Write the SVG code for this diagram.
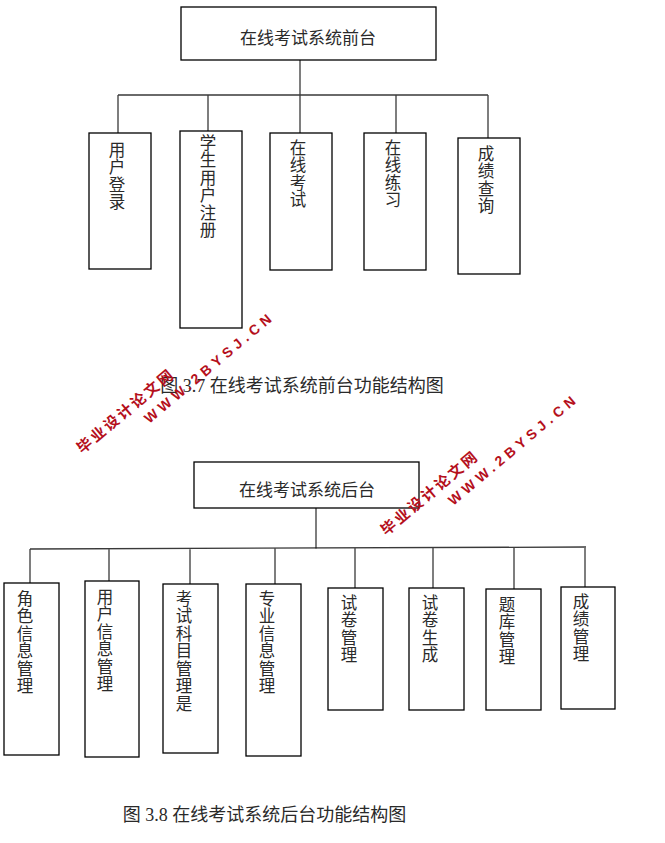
<svg xmlns="http://www.w3.org/2000/svg" width="665" height="843" viewBox="0 0 665 843">
<style>
.box{fill:#fff;stroke:#000;stroke-width:1.3}
.ln{fill:none;stroke:#3a3a3a;stroke-width:1.3}
.t{font-family:"Noto Sans CJK SC","Noto Sans",sans-serif;font-size:17px;fill:#2a2a2a;text-anchor:middle}
.v{font-family:"Noto Sans CJK SC","Noto Sans",sans-serif;font-size:16.5px;fill:#2a2a2a;writing-mode:vertical-rl;letter-spacing:1px}
.cap{font-family:"Liberation Serif","Noto Sans CJK SC",serif;font-size:18px;fill:#2a2a2a;text-anchor:middle}
.wmc{font-family:"Noto Sans CJK SC",sans-serif;font-weight:bold;font-size:15px;fill:#b5101c;text-anchor:middle;letter-spacing:2.5px}
.wme{font-family:"Liberation Sans",Arial,sans-serif;font-weight:bold;font-size:14px;fill:#b5101c;text-anchor:middle;letter-spacing:4.5px}
</style>
<rect width="665" height="843" fill="#fff"/>

<g id="connectors">
<path class="ln" d="M300 60V95M118 95H488M118 95V133M208 95V131M300 95V133M396 95V133M488 95V138"/>
<path class="ln" d="M316 508V549M30 549L586 547M30 549V583M109 549V581M190 549V584M275 548V584M355 548V588M433 548V588M514 547V589M585 547V587"/>
</g>

<g id="front-root"><rect class="box" x="181" y="7" width="255" height="53"/><text class="t" x="308" y="44">在线考试系统前台</text></g>
<g id="f1"><rect class="box" x="89" y="133" width="62" height="136"/><text class="v" x="117" y="141">用户登录</text></g>
<g id="f2"><rect class="box" x="180" y="131" width="62" height="197"/><text class="v" x="208" y="134">学生用户注册</text></g>
<g id="f3"><rect class="box" x="270" y="133" width="62" height="137"/><text class="v" x="298" y="139">在线考试</text></g>
<g id="f4"><rect class="box" x="364" y="133" width="62" height="137"/><text class="v" x="393" y="139">在线练习</text></g>
<g id="f5"><rect class="box" x="458" y="138" width="62" height="136"/><text class="v" x="486" y="145">成绩查询</text></g>

<text class="cap" x="302" y="392">图 3.7 在线考试系统前台功能结构图</text>

<g id="back-root"><rect class="box" x="194" y="462" width="225" height="46"/><text class="t" x="307" y="496">在线考试系统后台</text></g>
<g id="b1"><rect class="box" x="4" y="583" width="55" height="172"/><text class="v" x="25" y="590">角色信息管理</text></g>
<g id="b2"><rect class="box" x="85" y="581" width="54" height="176"/><text class="v" x="105" y="588">用户信息管理</text></g>
<g id="b3"><rect class="box" x="163" y="584" width="55" height="169"/><text class="v" x="184" y="590">考试科目管理是</text></g>
<g id="b4"><rect class="box" x="246" y="584" width="55" height="172"/><text class="v" x="267" y="590">专业信息管理</text></g>
<g id="b5"><rect class="box" x="328" y="588" width="55" height="122"/><text class="v" x="349" y="594">试卷管理</text></g>
<g id="b6"><rect class="box" x="409" y="588" width="55" height="122"/><text class="v" x="430" y="594">试卷生成</text></g>
<g id="b7"><rect class="box" x="486" y="589" width="55" height="121"/><text class="v" x="507" y="596">题库管理</text></g>
<g id="b8"><rect class="box" x="561" y="587" width="54" height="122"/><text class="v" x="581" y="593">成绩管理</text></g>

<text class="cap" x="264.5" y="821">图 3.8 在线考试系统后台功能结构图</text>

<g id="watermark1" transform="translate(126 411) rotate(-40)">
<text class="wmc" x="0" y="5">毕业设计论文网</text>
<text class="wme" x="92" y="25">WWW.2BYSJ.CN</text>
</g>
<g id="watermark2" transform="translate(430 493) rotate(-40)">
<text class="wmc" x="0" y="5">毕业设计论文网</text>
<text class="wme" x="92" y="25">WWW.2BYSJ.CN</text>
</g>
</svg>
